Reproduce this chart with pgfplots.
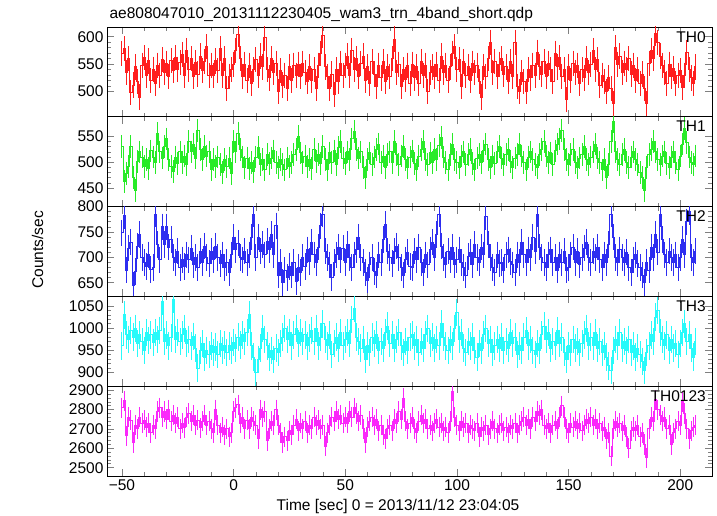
\documentclass[border=0pt]{standalone}
\usepackage{fontspec}
\setmainfont{Liberation Sans}
\usepackage{pgfplots}
\pgfplotsset{compat=1.18}
\definecolor{cA}{RGB}{255,30,30}
\definecolor{cB}{RGB}{40,235,40}
\definecolor{cC}{RGB}{45,45,240}
\definecolor{cD}{RGB}{40,250,250}
\definecolor{cE}{RGB}{250,40,250}
\newcommand{\lbl}{\fontsize{15.5}{18}\selectfont}
\pgfplotsset{
  panel/.style={
    at={(107pt,#1)}, anchor=south west, scale only axis,
    width=605pt, height=89.8pt,
    xmin=-56.7, xmax=214.2,
    xtick={-50,0,50,100,150,200}, minor x tick num=4, xticklabels={},
    tick align=inside, tick pos=both,
    major tick length=7pt, minor tick length=4pt,
    axis line style={line width=0.8pt},
    tick style={line width=0.7pt},
    tick label style={font=\lbl},
    /pgf/number format/assume math mode=true,
    /pgf/number format/1000 sep={},
    minor y tick num=4,
    clip mode=individual, clip marker paths=true,
  },
  lc/.style n args={2}{draw=#1, color=#1, line width=1pt, const plot mark mid,
    mark=|, mark size=#2, mark options={draw=#1, solid, line width=1pt}},
}
\begin{document}
\begin{tikzpicture}
\path[use as bounding box] (0,0) rectangle (717pt,516pt);
% TH0 (error bar half-length 23 counts/s = 12.6pt)
\begin{axis}[panel=399.2pt, ymin=454, ymax=618, ytick={500,550,600}]
\addplot[lc={cA}{12.6pt}] coordinates {
(-50,570)(-49,578)(-48,535)(-47,560)(-46,498)(-45,512)(-44,545)(-43,518)(-42,490)(-41,548)
(-40,562)(-39,530)(-38,556)(-37,520)(-36,541)(-35,515)(-34,548)(-33,530)(-32,558)(-31,535)
(-30,552)(-29,528)(-28,557)(-27,538)(-26,562)(-25,541)(-24,553)(-23,568)(-22,530)(-21,575)
(-20,540)(-19,560)(-18,528)(-17,553)(-16,532)(-15,565)(-14,538)(-13,555)(-12,582)(-11,530)
(-10,548)(-9,530)(-8,556)(-7,538)(-6,578)(-5,530)(-4,560)(-3,505)(-2,528)(-1,540)
(0,550)(1,575)(2,604)(3,560)(4,528)(5,550)(6,520)(7,548)(8,515)(9,540)
(10,558)(11,530)(12,565)(13,545)(14,598)(15,540)(16,525)(17,560)(18,535)(19,552)
(20,500)(21,538)(22,512)(23,530)(24,505)(25,545)(26,520)(27,548)(28,530)(29,550)
(30,528)(31,552)(32,535)(33,518)(34,545)(35,520)(36,540)(37,505)(38,548)(39,570)
(40,603)(41,545)(42,528)(43,505)(44,532)(45,495)(46,540)(47,518)(48,552)(49,530)
(50,548)(51,565)(52,530)(53,575)(54,540)(55,560)(56,528)(57,552)(58,565)(59,520)
(60,545)(61,515)(62,555)(63,532)(64,510)(65,548)(66,525)(67,555)(68,518)(69,545)
(70,528)(71,560)(72,596)(73,535)(74,550)(75,510)(76,540)(77,522)(78,548)(79,515)
(80,550)(81,525)(82,545)(83,515)(84,555)(85,530)(86,548)(87,500)(88,535)(89,545)
(90,528)(91,550)(92,520)(93,565)(94,535)(95,548)(96,520)(97,545)(98,570)(99,582)
(100,540)(101,558)(102,510)(103,555)(104,530)(105,545)(106,520)(107,552)(108,535)(109,548)
(110,518)(111,490)(112,545)(113,528)(114,560)(115,590)(116,535)(117,555)(118,528)(119,550)
(120,560)(121,532)(122,545)(123,518)(124,555)(125,528)(126,590)(127,510)(128,500)(129,535)
(130,518)(131,500)(132,540)(133,525)(134,548)(135,530)(136,572)(137,545)(138,532)(139,555)
(140,528)(141,552)(142,540)(143,518)(144,570)(145,545)(146,562)(147,528)(148,540)(149,485)
(150,545)(151,520)(152,552)(153,535)(154,548)(155,515)(156,540)(157,525)(158,560)(159,535)
(160,550)(161,575)(162,540)(163,558)(164,512)(165,530)(166,518)(167,500)(168,525)(169,505)
(170,478)(171,580)(172,550)(173,565)(174,535)(175,552)(176,540)(177,560)(178,532)(179,548)
(180,520)(181,540)(182,515)(183,532)(184,505)(185,478)(186,552)(187,575)(188,560)(189,606)
(190,590)(191,565)(192,548)(193,535)(194,515)(195,550)(196,528)(197,542)(198,515)(199,530)
(200,538)(201,508)(202,530)(203,572)(204,540)(205,525)(206,515)(207,545)
};
\node[anchor=north east, inner sep=0pt, font=\lbl] at (rel axis cs:0.99,0.955) {TH0};
\end{axis}
% TH1 (22 counts/s = 11.35pt)
\begin{axis}[panel=309.4pt, ymin=414, ymax=588, ytick={450,500,550}]
\addplot[lc={cB}{11.35pt}] coordinates {
(-50,530)(-49,462)(-48,478)(-47,492)(-46,530)(-45,470)(-44,445)(-43,502)(-42,520)(-41,510)
(-40,492)(-39,505)(-38,488)(-37,522)(-36,510)(-35,500)(-34,555)(-33,520)(-32,508)(-31,530)
(-30,545)(-29,505)(-28,492)(-27,482)(-26,510)(-25,498)(-24,520)(-23,500)(-22,512)(-21,495)
(-20,540)(-19,520)(-18,535)(-17,508)(-16,562)(-15,525)(-14,505)(-13,530)(-12,512)(-11,520)
(-10,485)(-9,505)(-8,492)(-7,510)(-6,495)(-5,480)(-4,505)(-3,492)(-2,508)(-1,478)
(0,540)(1,520)(2,556)(3,525)(4,510)(5,490)(6,508)(7,488)(8,500)(9,482)
(10,510)(11,528)(12,495)(13,505)(14,485)(15,515)(16,498)(17,508)(18,522)(19,500)
(20,490)(21,505)(22,495)(23,485)(24,508)(25,492)(26,500)(27,515)(28,525)(29,550)
(30,518)(31,500)(32,512)(33,492)(34,505)(35,488)(36,525)(37,502)(38,515)(39,498)
(40,530)(41,505)(42,485)(43,518)(44,500)(45,522)(46,495)(47,528)(48,540)(49,508)
(50,498)(51,520)(52,505)(53,545)(54,560)(55,525)(56,508)(57,520)(58,490)(59,470)
(60,505)(61,518)(62,495)(63,510)(64,525)(65,535)(66,500)(67,512)(68,490)(69,515)
(70,520)(71,500)(72,540)(73,515)(74,495)(75,512)(76,530)(77,505)(78,490)(79,510)
(80,522)(81,498)(82,485)(83,512)(84,525)(85,540)(86,505)(87,495)(88,518)(89,500)
(90,525)(91,505)(92,532)(93,548)(94,510)(95,500)(96,485)(97,515)(98,535)(99,505)
(100,500)(101,490)(102,512)(103,520)(104,495)(105,515)(106,525)(107,498)(108,485)(109,508)
(110,515)(111,500)(112,522)(113,535)(114,505)(115,490)(116,512)(117,498)(118,520)(119,530)
(120,508)(121,495)(122,515)(123,525)(124,502)(125,490)(126,508)(127,515)(128,535)(129,512)
(130,500)(131,485)(132,510)(133,520)(134,505)(135,495)(136,490)(137,515)(138,525)(139,540)
(140,512)(141,500)(142,518)(143,495)(144,522)(145,535)(146,545)(147,562)(148,525)(149,505)
(150,495)(151,515)(152,525)(153,500)(154,490)(155,508)(156,515)(157,530)(158,505)(159,495)
(160,510)(161,520)(162,535)(163,508)(164,500)(165,485)(166,505)(167,470)(168,495)(169,540)
(170,578)(171,520)(172,505)(173,495)(174,515)(175,525)(176,500)(177,490)(178,510)(179,520)
(180,505)(181,495)(182,480)(183,470)(184,445)(185,490)(186,515)(187,525)(188,540)(189,520)
(190,505)(191,495)(192,512)(193,520)(194,498)(195,490)(196,510)(197,520)(198,500)(199,485)
(200,512)(201,535)(202,565)(203,538)(204,510)(205,500)(206,495)(207,512)
};
\node[anchor=north east, inner sep=0pt, font=\lbl] at (rel axis cs:0.99,0.955) {TH1};
\end{axis}
% TH2 (26 counts/s = 13.2pt)
\begin{axis}[panel=219.6pt, ymin=623, ymax=800, ytick={650,700,750,800}]
\addplot[lc={cC}{13.2pt}] coordinates {
(-50,748)(-49,782)(-48,675)(-47,718)(-46,730)(-45,645)(-44,672)(-43,722)(-42,745)(-41,700)
(-40,690)(-39,682)(-38,705)(-37,676)(-36,680)(-35,785)(-34,725)(-33,695)(-32,760)(-31,725)
(-30,760)(-29,720)(-28,735)(-27,700)(-26,690)(-25,712)(-24,680)(-23,695)(-22,682)(-21,705)
(-20,695)(-19,718)(-18,685)(-17,700)(-16,680)(-15,712)(-14,690)(-13,722)(-12,700)(-11,688)
(-10,712)(-9,695)(-8,722)(-7,700)(-6,688)(-5,705)(-4,680)(-3,690)(-2,670)(-1,705)
(0,740)(1,715)(2,728)(3,700)(4,695)(5,712)(6,690)(7,705)(8,740)(9,785)
(10,700)(11,740)(12,712)(13,725)(14,705)(15,732)(16,715)(17,745)(18,705)(19,762)
(20,665)(21,690)(22,650)(23,675)(24,660)(25,682)(26,665)(27,690)(28,652)(29,680)
(30,670)(31,700)(32,682)(33,715)(34,692)(35,730)(36,705)(37,690)(38,720)(39,762)
(40,785)(41,712)(42,700)(43,685)(44,660)(45,690)(46,705)(47,720)(48,695)(49,718)
(50,690)(51,725)(52,700)(53,680)(54,705)(55,715)(56,740)(57,700)(58,690)(59,670)
(60,655)(61,685)(62,700)(63,672)(64,665)(65,705)(66,690)(67,735)(68,765)(69,712)
(70,700)(71,688)(72,712)(73,722)(74,700)(75,680)(76,665)(77,695)(78,710)(79,682)
(80,680)(81,712)(82,695)(83,720)(84,690)(85,670)(86,705)(87,685)(88,715)(89,730)
(90,700)(91,745)(92,785)(93,722)(94,700)(95,685)(96,712)(97,695)(98,720)(99,685)
(100,695)(101,715)(102,690)(103,680)(104,665)(105,702)(106,710)(107,685)(108,725)(109,700)
(110,690)(111,720)(112,705)(113,780)(114,725)(115,700)(116,680)(117,670)(118,705)(119,688)
(120,690)(121,675)(122,705)(123,715)(124,692)(125,685)(126,670)(127,705)(128,690)(129,730)
(130,705)(131,690)(132,715)(133,700)(134,740)(135,712)(136,785)(137,720)(138,700)(139,690)
(140,680)(141,705)(142,715)(143,690)(144,700)(145,675)(146,705)(147,690)(148,712)(149,675)
(150,680)(151,705)(152,720)(153,690)(154,712)(155,685)(156,700)(157,718)(158,730)(159,700)
(160,690)(161,712)(162,700)(163,720)(164,695)(165,680)(166,705)(167,690)(168,725)(169,785)
(170,740)(171,700)(172,690)(173,715)(174,700)(175,690)(176,710)(177,680)(178,670)(179,695)
(180,705)(181,688)(182,680)(183,665)(184,650)(185,690)(186,675)(187,720)(188,700)(189,745)
(190,710)(191,785)(192,735)(193,705)(194,690)(195,712)(196,700)(197,690)(198,705)(199,680)
(200,700)(201,735)(202,705)(203,770)(204,790)(205,700)(206,690)(207,712)
};
\node[anchor=north east, inner sep=0pt, font=\lbl] at (rel axis cs:0.99,0.955) {TH2};
\end{axis}
% TH3 (31 counts/s = 13.7pt)
\begin{axis}[panel=129.8pt, ymin=869, ymax=1072, ytick={900,950,1000,1050}]
\addplot[lc={cD}{13.7pt}] coordinates {
(-50,960)(-49,1030)(-48,985)(-47,975)(-46,995)(-45,980)(-44,1000)(-43,965)(-42,985)(-41,970)
(-40,950)(-39,990)(-38,972)(-37,985)(-36,968)(-35,990)(-34,975)(-33,995)(-32,1060)(-31,970)
(-30,985)(-29,960)(-28,978)(-27,1065)(-26,975)(-25,990)(-24,970)(-23,985)(-22,1000)(-21,965)
(-20,975)(-19,960)(-18,982)(-17,955)(-16,910)(-15,950)(-14,965)(-13,935)(-12,950)(-11,940)
(-10,960)(-9,945)(-8,958)(-7,940)(-6,965)(-5,950)(-4,962)(-3,945)(-2,960)(-1,950)
(0,968)(1,955)(2,980)(3,962)(4,985)(5,970)(6,990)(7,1030)(8,960)(9,935)
(10,900)(11,930)(12,955)(13,1000)(14,975)(15,960)(16,935)(17,950)(18,930)(19,955)
(20,945)(21,965)(22,980)(23,1000)(24,975)(25,990)(26,960)(27,985)(28,1000)(29,965)
(30,990)(31,970)(32,985)(33,960)(34,978)(35,995)(36,970)(37,1000)(38,960)(39,980)
(40,1010)(41,975)(42,960)(43,985)(44,940)(45,965)(46,980)(47,955)(48,990)(49,960)
(50,975)(51,990)(52,965)(53,1020)(54,1045)(55,980)(56,970)(57,955)(58,975)(59,930)
(60,960)(61,945)(62,980)(63,965)(64,985)(65,950)(66,970)(67,955)(68,990)(69,1005)
(70,965)(71,985)(72,955)(73,975)(74,990)(75,960)(76,945)(77,970)(78,950)(79,980)
(80,985)(81,960)(82,975)(83,945)(84,970)(85,955)(86,985)(87,1000)(88,965)(89,980)
(90,955)(91,975)(92,960)(93,1010)(94,980)(95,960)(96,950)(97,975)(98,960)(99,1000)
(100,1035)(101,975)(102,990)(103,955)(104,945)(105,970)(106,960)(107,980)(108,950)(109,935)
(110,965)(111,950)(112,985)(113,1000)(114,965)(115,975)(116,945)(117,960)(118,975)(119,955)
(120,980)(121,950)(122,970)(123,955)(124,990)(125,965)(126,980)(127,940)(128,960)(129,950)
(130,980)(131,995)(132,960)(133,975)(134,950)(135,940)(136,965)(137,950)(138,985)(139,1005)
(140,975)(141,990)(142,955)(143,970)(144,960)(145,995)(146,965)(147,980)(148,945)(149,930)
(150,960)(151,945)(152,975)(153,955)(154,970)(155,945)(156,965)(157,985)(158,1000)(159,960)
(160,980)(161,960)(162,990)(163,955)(164,970)(165,945)(166,960)(167,935)(168,915)(169,905)
(170,950)(171,975)(172,960)(173,990)(174,955)(175,970)(176,950)(177,975)(178,945)(179,960)
(180,935)(181,955)(182,940)(183,925)(184,905)(185,945)(186,960)(187,985)(188,970)(189,1025)
(190,1040)(191,990)(192,975)(193,960)(194,985)(195,950)(196,975)(197,955)(198,965)(199,940)
(200,965)(201,990)(202,1010)(203,970)(204,985)(205,955)(206,935)(207,970)
};
\node[anchor=north east, inner sep=0pt, font=\lbl] at (rel axis cs:0.99,0.955) {TH3};
\end{axis}
% TH0123 (52 counts/s = 10.06pt)
\begin{axis}[panel=40pt, ymin=2457, ymax=2921, ytick={2500,2600,2700,2800,2900},
  xticklabels={−50,0,50,100,150,200}]
\addplot[lc={cE}{10.06pt}] coordinates {
(-50,2810)(-49,2845)(-48,2665)(-47,2760)(-46,2745)(-45,2630)(-44,2720)(-43,2700)(-42,2760)(-41,2730)
(-40,2745)(-39,2710)(-38,2730)(-37,2680)(-36,2720)(-35,2700)(-34,2790)(-33,2810)(-32,2760)(-31,2790)
(-30,2750)(-29,2800)(-28,2740)(-27,2770)(-26,2730)(-25,2760)(-24,2700)(-23,2730)(-22,2705)(-21,2760)
(-20,2780)(-19,2740)(-18,2770)(-17,2720)(-16,2745)(-15,2705)(-14,2740)(-13,2770)(-12,2720)(-11,2740)
(-10,2700)(-9,2680)(-8,2800)(-7,2720)(-6,2680)(-5,2710)(-4,2670)(-3,2700)(-2,2660)(-1,2680)
(0,2790)(1,2810)(2,2825)(3,2730)(4,2760)(5,2700)(6,2745)(7,2700)(8,2760)(9,2740)
(10,2720)(11,2650)(12,2800)(13,2760)(14,2790)(15,2640)(16,2700)(17,2740)(18,2720)(19,2800)
(20,2720)(21,2680)(22,2630)(23,2660)(24,2640)(25,2690)(26,2670)(27,2720)(28,2750)(29,2690)
(30,2730)(31,2700)(32,2740)(33,2680)(34,2720)(35,2700)(36,2760)(37,2720)(38,2745)(39,2700)
(40,2720)(41,2610)(42,2680)(43,2720)(44,2760)(45,2740)(46,2790)(47,2750)(48,2770)(49,2730)
(50,2760)(51,2730)(52,2790)(53,2760)(54,2810)(55,2780)(56,2740)(57,2770)(58,2700)(59,2630)
(60,2710)(61,2740)(62,2760)(63,2720)(64,2750)(65,2690)(66,2720)(67,2670)(68,2650)(69,2700)
(70,2720)(71,2690)(72,2750)(73,2730)(74,2790)(75,2750)(76,2860)(77,2740)(78,2700)(79,2730)
(80,2760)(81,2700)(82,2680)(83,2740)(84,2770)(85,2730)(86,2750)(87,2700)(88,2720)(89,2690)
(90,2730)(91,2750)(92,2710)(93,2730)(94,2690)(95,2710)(96,2680)(97,2740)(98,2895)(99,2760)
(100,2720)(101,2690)(102,2740)(103,2710)(104,2730)(105,2680)(106,2720)(107,2700)(108,2690)(109,2730)
(110,2660)(111,2710)(112,2690)(113,2720)(114,2670)(115,2700)(116,2740)(117,2700)(118,2680)(119,2720)
(120,2730)(121,2690)(122,2710)(123,2680)(124,2720)(125,2700)(126,2730)(127,2680)(128,2720)(129,2740)
(130,2760)(131,2720)(132,2750)(133,2700)(134,2760)(135,2740)(136,2790)(137,2770)(138,2800)(139,2720)
(140,2700)(141,2730)(142,2680)(143,2720)(144,2740)(145,2700)(146,2760)(147,2820)(148,2760)(149,2700)
(150,2680)(151,2730)(152,2710)(153,2740)(154,2700)(155,2730)(156,2690)(157,2720)(158,2750)(159,2730)
(160,2760)(161,2720)(162,2750)(163,2700)(164,2730)(165,2690)(166,2710)(167,2650)(168,2680)(169,2560)
(170,2700)(171,2740)(172,2710)(173,2730)(174,2690)(175,2720)(176,2660)(177,2600)(178,2690)(179,2710)
(180,2690)(181,2720)(182,2660)(183,2680)(184,2620)(185,2550)(186,2700)(187,2760)(188,2740)(189,2850)
(190,2800)(191,2770)(192,2740)(193,2760)(194,2700)(195,2720)(196,2620)(197,2680)(198,2700)(199,2740)
(200,2720)(201,2840)(202,2780)(203,2700)(204,2650)(205,2690)(206,2710)(207,2720)
};
\node[anchor=north east, inner sep=0pt, font=\lbl] at (rel axis cs:0.99,0.955) {TH0123};
\end{axis}
\node[anchor=base west, font=\lbl] at (106pt,497pt) {ae808047010\_20131112230405\_wam3\_trn\_4band\_short.qdp};
\node[anchor=base, font=\lbl] at (398pt,5pt) {Time [sec] 0 = 2013/11/12 23:04:05};
\node[rotate=90, anchor=base, font=\lbl] at (43pt,266pt) {Counts/sec};
\end{tikzpicture}
\end{document}
